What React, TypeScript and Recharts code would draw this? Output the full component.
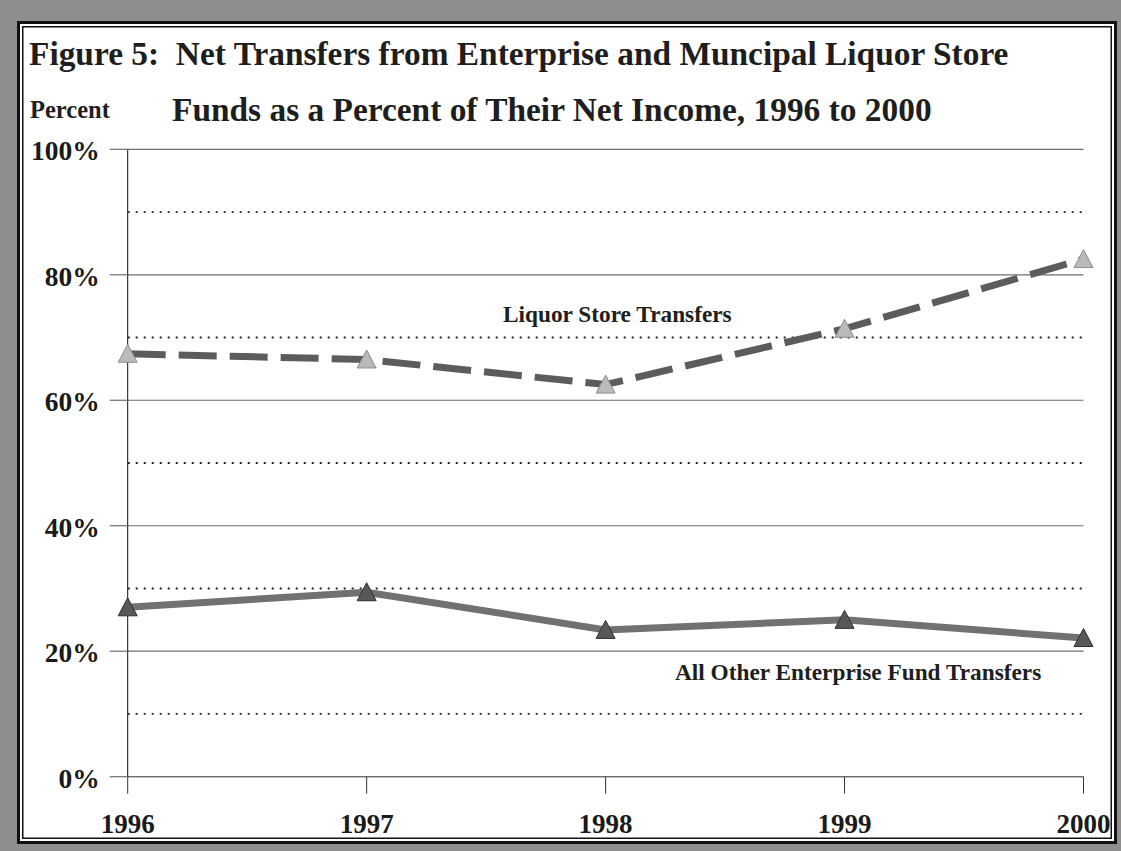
import React from 'react';
import { LineChart, Line, XAxis, YAxis, CartesianGrid, ReferenceLine } from 'recharts';

const years = ['1996', '1997', '1998', '1999', '2000'];
const liquorStore = [67.4, 66.5, 62.5, 71.4, 82.5];
const allOther = [27.0, 29.4, 23.4, 25.0, 22.1];
const majorTicks = [0, 20, 40, 60, 80, 100];
const minorLines = [10, 30, 50, 70, 90];

const titleLine1 = 'Figure 5:  Net Transfers from Enterprise and Muncipal Liquor Store';
const titleLine2 = 'Funds as a Percent of Their Net Income, 1996 to 2000';
const yAxisTitle = 'Percent';
const liquorLabel = 'Liquor Store Transfers';
const otherLabel = 'All Other Enterprise Fund Transfers';

const data = years.map((y, i) => ({ year: y, liquor: liquorStore[i], other: allOther[i] }));

const FONT = '"Liberation Serif", "Times New Roman", serif';
const W = 1121;
const H = 851;

const YTick = (props: any) => {
  const { x, y, payload } = props;
  return (
    <text x={x} y={y} dy={11} textAnchor="end" fontFamily={FONT} fontWeight="bold" fontSize={27.5} fill="#1a1a1a">
      {payload.value}%
    </text>
  );
};

const XTick = (props: any) => {
  const { x, y, payload } = props;
  return (
    <text x={x} y={y} dy={37} textAnchor="middle" fontFamily={FONT} fontWeight="bold" fontSize={27} fill="#1a1a1a">
      {payload.value}
    </text>
  );
};

const makeTri = (fill: string, stroke: string) => (p: any) => {
  const { cx, cy, index } = p;
  if (cx == null || cy == null) return <g key={`e${index}`} />;
  const pts = `${cx},${cy - 9.5} ${cx - 9.5},${cy + 8.5} ${cx + 9.5},${cy + 8.5}`;
  return <polygon key={`t${index}`} points={pts} fill={fill} stroke={stroke} strokeWidth={1} />;
};

export default function App() {
  return (
    <div style={{ position: 'absolute', left: 0, top: 0, width: W, height: H, background: '#8e8e8e', overflow: 'hidden' }}>
      <div
        style={{
          position: 'absolute',
          left: 17,
          top: 21,
          width: 1100,
          height: 823,
          boxSizing: 'border-box',
          background: '#ffffff',
          border: '3px solid #111',
          boxShadow: 'inset 0 0 0 2px #fff, inset 0 0 0 3.5px #111',
        }}
      />
      <div style={{ position: 'absolute', left: 0, top: 0 }}>
        <LineChart
          width={W}
          height={H}
          data={data}
          margin={{ top: 149.3, right: 37.5, bottom: 14.3, left: 27.7 }}
        >
          <CartesianGrid horizontal={true} vertical={false} stroke="#6e6e6e" strokeWidth={1.2} />
          {minorLines.map((v) => (
            <ReferenceLine key={v} y={v} stroke="#222" strokeWidth={1.8} strokeDasharray="2 6" />
          ))}
          <XAxis
            dataKey="year"
            type="category"
            height={60}
            interval={0}
            axisLine={{ stroke: '#6e6e6e', strokeWidth: 1.2 }}
            tickLine={{ stroke: '#333', strokeWidth: 1 }}
            tickSize={17}
            tickMargin={2}
            tick={<XTick />}
          />
          <YAxis
            type="number"
            domain={[0, 100]}
            ticks={majorTicks}
            width={100}
            interval={0}
            axisLine={{ stroke: '#111', strokeWidth: 1 }}
            tickLine={{ stroke: '#6e6e6e', strokeWidth: 1.2 }}
            tickSize={18}
            tickMargin={10}
            tick={<YTick />}
          />
          <Line
            dataKey="other"
            type="linear"
            stroke="#717171"
            strokeWidth={7}
            dot={makeTri('#585858', '#2e2e2e')}
            activeDot={false}
            isAnimationActive={false}
          />
          <Line
            dataKey="liquor"
            type="linear"
            stroke="#5c5c5c"
            strokeWidth={7}
            strokeDasharray="38 13"
            dot={makeTri('#bababa', '#8e8e8e')}
            activeDot={false}
            isAnimationActive={false}
          />
        </LineChart>
      </div>
      <svg width={W} height={H} style={{ position: 'absolute', left: 0, top: 0, pointerEvents: 'none' }}>
        <g fontFamily={FONT} fontWeight="bold" fill="#1e1e1e">
          <text x={29} y={65} fontSize={33.4} style={{ whiteSpace: 'pre' }}>{titleLine1}</text>
          <text x={172} y={121} fontSize={33.4} style={{ whiteSpace: 'pre' }}>{titleLine2}</text>
          <text x={30} y={118} fontSize={24.5}>{yAxisTitle}</text>
          <text x={503} y={322} fontSize={23.3}>{liquorLabel}</text>
          <text x={675} y={680} fontSize={23.3}>{otherLabel}</text>
        </g>
      </svg>
    </div>
  );
}
